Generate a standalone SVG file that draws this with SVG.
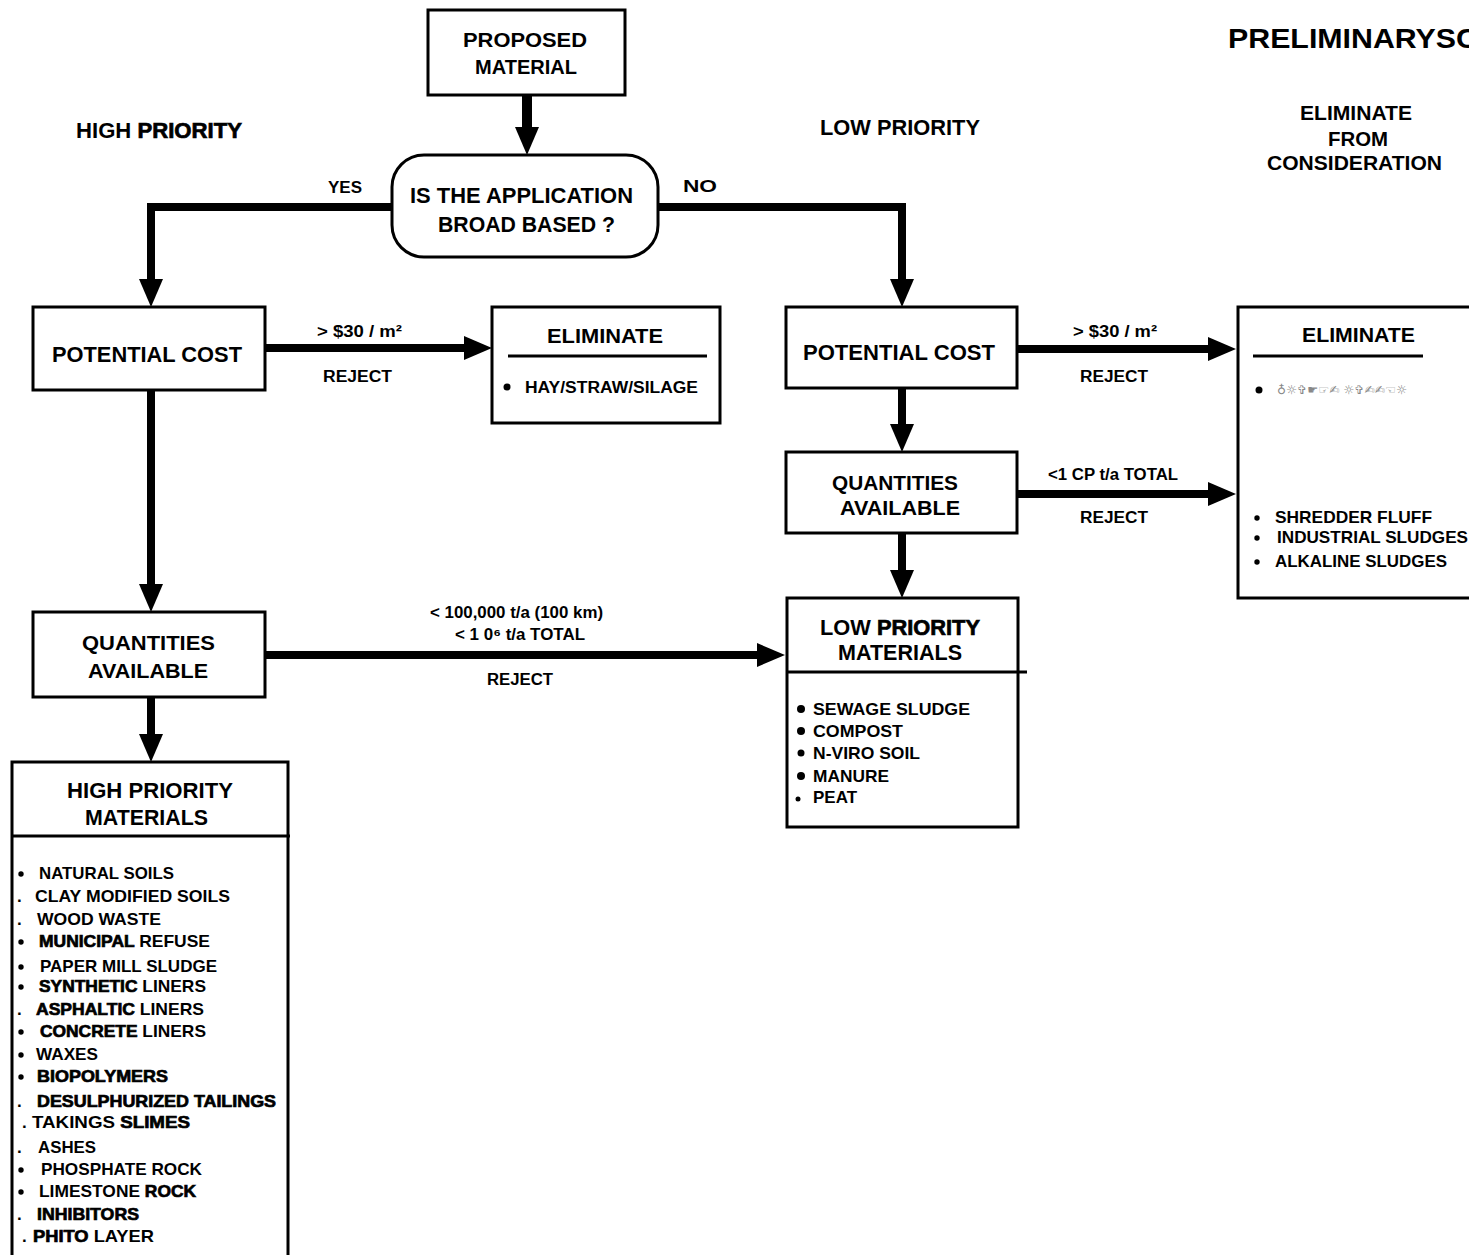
<svg xmlns="http://www.w3.org/2000/svg" width="1469" height="1255" viewBox="0 0 1469 1255">
<style>
.t{font-family:"Liberation Sans",Arial,Helvetica,sans-serif;font-weight:bold;fill:#000}
.box{fill:none;stroke:#000;stroke-width:3}
.ln{stroke:#000;stroke-width:3}
.c{fill:none;stroke:#000;stroke-width:8;stroke-linejoin:miter}
.hv{stroke:#000;stroke-width:0.7}
.f22{font-size:22px}.f21{font-size:21px}.f17{font-size:17px}.f16{font-size:16px}
.g{font-family:"DejaVu Sans",sans-serif;font-size:12px;fill:#888}
.dot{fill:#000}
</style>
<defs>
<marker id="ah" markerUnits="userSpaceOnUse" markerWidth="28" markerHeight="24" viewBox="0 0 28 24" refX="14" refY="12" orient="auto">
<path d="M0,0 L28,12 L0,24 z" fill="#000"/>
</marker>
</defs>
<rect width="1469" height="1255" fill="#fff"/>

<g id="connectors">
<path class="c" d="M527,95 V141" marker-end="url(#ah)" style="stroke-width:10"/>
<path class="c" d="M392,207 H151 V293" marker-end="url(#ah)"/>
<path class="c" d="M658,207 H902 V293" marker-end="url(#ah)"/>
<path class="c" d="M265,348 H478" marker-end="url(#ah)"/>
<path class="c" d="M151,390 V598" marker-end="url(#ah)"/>
<path class="c" d="M151,697 V748" marker-end="url(#ah)"/>
<path class="c" d="M265,655 H771" marker-end="url(#ah)"/>
<path class="c" d="M902,388 V438" marker-end="url(#ah)"/>
<path class="c" d="M902,533 V584" marker-end="url(#ah)"/>
<path class="c" d="M1017,349 H1222" marker-end="url(#ah)"/>
<path class="c" d="M1017,494 H1222" marker-end="url(#ah)"/>
<text class="t f16" x="328" y="193" textLength="34" lengthAdjust="spacingAndGlyphs">YES</text>
<text class="t f16" x="683" y="192" textLength="34" lengthAdjust="spacingAndGlyphs">NO</text>
<text class="t f16" x="317" y="337" textLength="85" lengthAdjust="spacingAndGlyphs">&gt; $30 / m²</text>
<text class="t f16" x="323" y="382" textLength="69" lengthAdjust="spacingAndGlyphs">REJECT</text>
<text class="t f16" x="1073" y="337" textLength="84" lengthAdjust="spacingAndGlyphs">&gt; $30 / m²</text>
<text class="t f16" x="1080" y="382" textLength="68" lengthAdjust="spacingAndGlyphs">REJECT</text>
<text class="t f16" x="1048" y="480" textLength="130" lengthAdjust="spacingAndGlyphs">&lt;1 CP t/a TOTAL</text>
<text class="t f16" x="1080" y="523" textLength="68" lengthAdjust="spacingAndGlyphs">REJECT</text>
<text class="t f16" x="430" y="618" textLength="173" lengthAdjust="spacingAndGlyphs">&lt; 100,000 t/a (100 km)</text>
<text class="t f16" x="455" y="640" textLength="130" lengthAdjust="spacingAndGlyphs">&lt; 1 0⁶ t/a TOTAL</text>
<text class="t f16" x="487" y="685" textLength="66" lengthAdjust="spacingAndGlyphs">REJECT</text>
</g>

<g id="header-title">
<text class="t" style="font-size:28px" x="1228" y="48" textLength="250" lengthAdjust="spacingAndGlyphs">PRELIMINARYSC</text>
</g>
<g id="header-high">
<text class="t f22" x="76" y="138" textLength="166" lengthAdjust="spacingAndGlyphs">HIGH <tspan class="hv">PRIORITY</tspan></text>
</g>
<g id="header-low">
<text class="t f22" x="820" y="135" textLength="160" lengthAdjust="spacingAndGlyphs">LOW  PRIORITY</text>
</g>
<g id="header-eliminate">
<text class="t f21" x="1300" y="120" textLength="112" lengthAdjust="spacingAndGlyphs">ELIMINATE</text>
<text class="t f21" x="1328" y="146" textLength="60" lengthAdjust="spacingAndGlyphs">FROM</text>
<text class="t f21" x="1267" y="170" textLength="175" lengthAdjust="spacingAndGlyphs">CONSIDERATION</text>
</g>

<g id="n-proposed">
<rect class="box" x="428" y="10" width="197" height="85"/>
<text class="t f21" x="463" y="47" textLength="124" lengthAdjust="spacingAndGlyphs">PROPOSED</text>
<text class="t f21" x="475" y="74" textLength="102" lengthAdjust="spacingAndGlyphs">MATERIAL</text>
</g>

<g id="n-decision">
<rect class="box" x="392" y="155" width="266" height="102" rx="32" ry="32"/>
<text class="t f22" x="410" y="203" textLength="223" lengthAdjust="spacingAndGlyphs">IS THE APPLICATION</text>
<text class="t f22" x="438" y="232" textLength="177" lengthAdjust="spacingAndGlyphs">BROAD BASED ?</text>
</g>

<g id="n-cost-left">
<rect class="box" x="33" y="307" width="232" height="83"/>
<text class="t f22" x="52" y="362" textLength="190" lengthAdjust="spacingAndGlyphs">POTENTIAL COST</text>
</g>

<g id="n-eliminate-left">
<rect class="box" x="492" y="307" width="228" height="116"/>
<text class="t f21" x="547" y="343" textLength="116" lengthAdjust="spacingAndGlyphs">ELIMINATE</text>
<line class="ln" x1="508" y1="356" x2="707" y2="356"/>
<circle class="dot" cx="507" cy="387" r="3.5"/>
<text class="t f16" x="525" y="393" textLength="173" lengthAdjust="spacingAndGlyphs">HAY/STRAW/SILAGE</text>
</g>

<g id="n-quantities-left">
<rect class="box" x="33" y="612" width="232" height="85"/>
<text class="t f21" x="82" y="650" textLength="133" lengthAdjust="spacingAndGlyphs">QUANTITIES</text>
<text class="t f21" x="88" y="678" textLength="120" lengthAdjust="spacingAndGlyphs">AVAILABLE</text>
</g>

<g id="n-high-materials">
<rect class="box" x="12" y="762" width="276" height="520"/>
<line class="ln" x1="12" y1="836" x2="290" y2="836"/>
<text class="t f22" x="67" y="798" textLength="166" lengthAdjust="spacingAndGlyphs">HIGH PRIORITY</text>
<text class="t f22" x="85" y="825" textLength="123" lengthAdjust="spacingAndGlyphs">MATERIALS</text>
<circle class="dot" cx="21" cy="874" r="2.7"/>
<circle class="dot" cx="21" cy="942" r="2.7"/>
<circle class="dot" cx="21" cy="967" r="2.7"/>
<circle class="dot" cx="21" cy="987" r="2.7"/>
<circle class="dot" cx="21" cy="1032" r="2.7"/>
<circle class="dot" cx="21" cy="1055" r="2.7"/>
<circle class="dot" cx="21" cy="1077" r="2.7"/>
<circle class="dot" cx="21" cy="1170" r="2.7"/>
<circle class="dot" cx="21" cy="1192" r="2.7"/>
<g class="t f17">
<text x="39" y="879" textLength="135" lengthAdjust="spacingAndGlyphs">NATURAL  SOILS</text>
<text x="17" y="902">.</text><text x="35" y="902" textLength="195" lengthAdjust="spacingAndGlyphs">CLAY  MODIFIED  SOILS</text>
<text x="17" y="925">.</text><text x="37" y="925" textLength="124" lengthAdjust="spacingAndGlyphs">WOOD  WASTE</text>
<text x="39" y="947" textLength="171" lengthAdjust="spacingAndGlyphs"><tspan class="hv">MUNICIPAL</tspan> REFUSE</text>
<text x="40" y="972" textLength="177" lengthAdjust="spacingAndGlyphs">PAPER MILL SLUDGE</text>
<text x="39" y="992" textLength="167" lengthAdjust="spacingAndGlyphs"><tspan class="hv">SYNTHETIC</tspan> LINERS</text>
<text x="17" y="1015">.</text><text x="36" y="1015" textLength="168" lengthAdjust="spacingAndGlyphs"><tspan class="hv">ASPHALTIC</tspan>  LINERS</text>
<text x="40" y="1037" textLength="166" lengthAdjust="spacingAndGlyphs"><tspan class="hv">CONCRETE</tspan> LINERS</text>
<text x="36" y="1060" textLength="62" lengthAdjust="spacingAndGlyphs">WAXES</text>
<text x="37" y="1082" textLength="131" lengthAdjust="spacingAndGlyphs" class="hv">BIOPOLYMERS</text>
<text x="17" y="1107">.</text><text x="37" y="1107" textLength="239" lengthAdjust="spacingAndGlyphs" class="hv">DESULPHURIZED TAILINGS</text>
<text x="22" y="1128">.</text><text x="32" y="1128" textLength="158" lengthAdjust="spacingAndGlyphs">TAKINGS <tspan class="hv">SLIMES</tspan></text>
<text x="17" y="1153">.</text><text x="38" y="1153" textLength="58" lengthAdjust="spacingAndGlyphs">ASHES</text>
<text x="41" y="1175" textLength="161" lengthAdjust="spacingAndGlyphs">PHOSPHATE  ROCK</text>
<text x="39" y="1197" textLength="157" lengthAdjust="spacingAndGlyphs">LIMESTONE <tspan class="hv">ROCK</tspan></text>
<text x="17" y="1220">.</text><text x="37" y="1220" textLength="102" lengthAdjust="spacingAndGlyphs" class="hv">INHIBITORS</text>
<text x="22" y="1242">.</text><text x="33" y="1242" textLength="121" lengthAdjust="spacingAndGlyphs"><tspan class="hv">PHITO</tspan> LAYER</text>
</g>
</g>

<g id="n-cost-right">
<rect class="box" x="786" y="307" width="231" height="81"/>
<text class="t f22" x="803" y="360" textLength="192" lengthAdjust="spacingAndGlyphs">POTENTIAL COST</text>
</g>

<g id="n-quantities-right">
<rect class="box" x="786" y="452" width="231" height="81"/>
<text class="t f21" x="832" y="490" textLength="126" lengthAdjust="spacingAndGlyphs">QUANTITIES</text>
<text class="t f21" x="840" y="515" textLength="120" lengthAdjust="spacingAndGlyphs">AVAILABLE</text>
</g>

<g id="n-low-materials">
<rect class="box" x="787" y="598" width="231" height="229"/>
<line class="ln" x1="787" y1="672" x2="1027" y2="672"/>
<text class="t f22" x="820" y="635" textLength="160" lengthAdjust="spacingAndGlyphs">LOW <tspan class="hv">PRIORITY</tspan></text>
<text class="t f22" x="838" y="660" textLength="124" lengthAdjust="spacingAndGlyphs">MATERIALS</text>
<circle class="dot" cx="801" cy="709" r="4"/>
<circle class="dot" cx="801" cy="731" r="4"/>
<circle class="dot" cx="801" cy="753" r="3.5"/>
<circle class="dot" cx="801" cy="776" r="4"/>
<circle class="dot" cx="798" cy="799" r="2.5"/>
<g class="t f17">
<text x="813" y="715" textLength="157" lengthAdjust="spacingAndGlyphs">SEWAGE SLUDGE</text>
<text x="813" y="737" textLength="90" lengthAdjust="spacingAndGlyphs">COMPOST</text>
<text x="813" y="759" textLength="107" lengthAdjust="spacingAndGlyphs">N-VIRO SOIL</text>
<text x="813" y="782" textLength="76" lengthAdjust="spacingAndGlyphs">MANURE</text>
<text x="813" y="803" textLength="44" lengthAdjust="spacingAndGlyphs">PEAT</text>
</g>
</g>

<g id="n-eliminate-right">
<rect class="box" x="1238" y="307" width="260" height="291"/>
<text class="t f21" x="1302" y="342" textLength="113" lengthAdjust="spacingAndGlyphs">ELIMINATE</text>
<line class="ln" x1="1253" y1="356" x2="1423" y2="356"/>
<circle class="dot" cx="1259" cy="390" r="3.5"/>
<text class="g" x="1277" y="394" textLength="130" lengthAdjust="spacingAndGlyphs">♁☼✞☛☞✍    ☼✞✍✍☜☼</text>
<circle class="dot" cx="1257" cy="518" r="2.7"/>
<circle class="dot" cx="1257" cy="538" r="2.7"/>
<circle class="dot" cx="1257" cy="562" r="2.7"/>
<g class="t f17">
<text x="1275" y="523" textLength="157" lengthAdjust="spacingAndGlyphs">SHREDDER  FLUFF</text>
<text x="1277" y="543" textLength="191" lengthAdjust="spacingAndGlyphs">INDUSTRIAL  SLUDGES</text>
<text x="1275" y="567" textLength="172" lengthAdjust="spacingAndGlyphs">ALKALINE SLUDGES</text>
</g>
</g>
</svg>
